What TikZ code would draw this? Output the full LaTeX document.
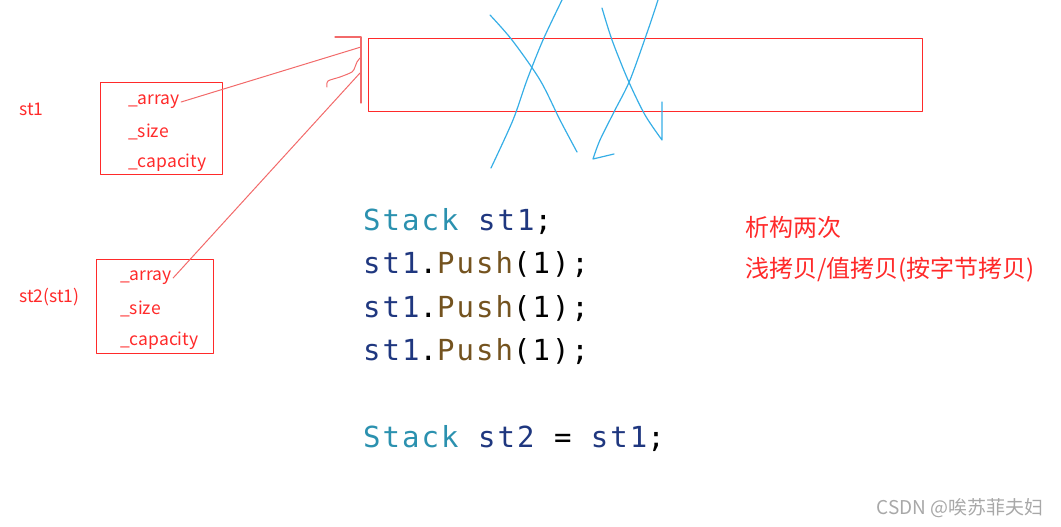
\documentclass[tikz,border=0pt]{standalone}
\usepackage{fontspec}
\setmainfont{Noto Sans CJK SC}
\setmonofont[LetterSpace=7]{DejaVu Sans Mono}
\usetikzlibrary{positioning}
\definecolor{inkred}{HTML}{FF2A2A}
\definecolor{linered}{HTML}{F26A6A}
\definecolor{penblue}{HTML}{36AEE6}
\definecolor{kwteal}{HTML}{2B91AF}
\definecolor{varnavy}{HTML}{1F377F}
\definecolor{fnbrown}{HTML}{74531F}
\definecolor{markgray}{HTML}{A8A8A8}

\begin{document}
\begin{tikzpicture}[x=1pt, y=-1pt, line cap=round, line join=round,
    membox/.style={draw=inkred, line width=1pt, inner sep=0pt},
    field/.style={anchor=west, inner sep=1pt, text=inkred, font=\fontsize{17.5}{20}\selectfont},
    codeline/.style={anchor=base west, inner sep=0pt, font=\ttfamily\fontsize{29}{33}\selectfont},
    note/.style={anchor=west, inner sep=0pt, text=inkred, font=\fontsize{24}{28}\selectfont}]
      \useasboundingbox (0,0) rectangle (1061,527);

      % Objeto st1
      \node[field] (s1name) at (18,109) {st1};
      \node[membox, minimum width=122, minimum height=91] (s1box) at (161,128.5) {};
      \node[field] (s1arr) at (127,102) {\_array};
      \node[field] (s1size) at (127,132) {\_size};
      \node[field] (s1cap) at (127,163) {\_capacity};

      % Objeto st2(st1)
      \node[field] (s2name) at (18,297) {st2(st1)};
      \node[membox, minimum width=117, minimum height=94] (s2box) at (154.5,306) {};
      \node[field] (s2arr) at (119,278) {\_array};
      \node[field] (s2size) at (119,309) {\_size};
      \node[field] (s2cap) at (119,341) {\_capacity};

      % Espacio en el heap
      \node[membox, minimum width=554, minimum height=72] (heap) at (645,75) {};
      \draw[line width=1.2pt, linered] (335,37) -| (361,103);
      \coordinate (tip1) at (361,47);
      \coordinate (tip2) at (360,73);

      % Punteros
      \draw[line width=1pt, linered] (s1arr.east) -- (tip1);
      \draw[line width=1pt, linered] (s2arr.east) -- (tip2);
      \draw[line width=1pt, linered] plot[smooth] coordinates {(327,87) (328,81) (340,77) (352,72) (355,67) (357,62) (360,58)};

      % Tachado en azul
      \draw[line width=1.2pt, penblue] plot[smooth] coordinates {(490,15) (512,40) (540,80) (560,120) (577,152)};
      \draw[line width=1.2pt, penblue] plot[smooth] coordinates {(562,0) (543,40) (527,80) (513,120) (491,168)};
      \draw[line width=1.2pt, penblue] plot[smooth] coordinates {(602,8) (612,40) (628,80) (645,115) (662,140)} -- (662,102);
      \draw[line width=1.2pt, penblue] plot[smooth] coordinates {(658,0) (648,30) (630,80) (615,110) (600,140) (593,159)} -- (614,154);

      % Codigo
      \node[codeline] (c1) at (363,230) {\textcolor{kwteal}{Stack} \textcolor{varnavy}{st1};};
      \node[codeline] (c2) at (363,273) {\textcolor{varnavy}{st1}.\textcolor{fnbrown}{Push}(1);};
      \node[codeline] (c3) at (363,317) {\textcolor{varnavy}{st1}.\textcolor{fnbrown}{Push}(1);};
      \node[codeline] (c4) at (363,360) {\textcolor{varnavy}{st1}.\textcolor{fnbrown}{Push}(1);};
      \node[codeline] (c5) at (363,447) {\textcolor{kwteal}{Stack} \textcolor{varnavy}{st2} = \textcolor{varnavy}{st1};};

      % Notas
      \node[note] (n1) at (745,227) {析构两次};
      \node[note] (n2) at (745,270) {浅拷贝/值拷贝(按字节拷贝)};

      \node[anchor=east, inner sep=0pt, text=markgray, font=\fontsize{19}{21}\selectfont] (mark) at (1044,508) {CSDN @唉苏菲夫妇};
    \end{tikzpicture}
\end{document}
